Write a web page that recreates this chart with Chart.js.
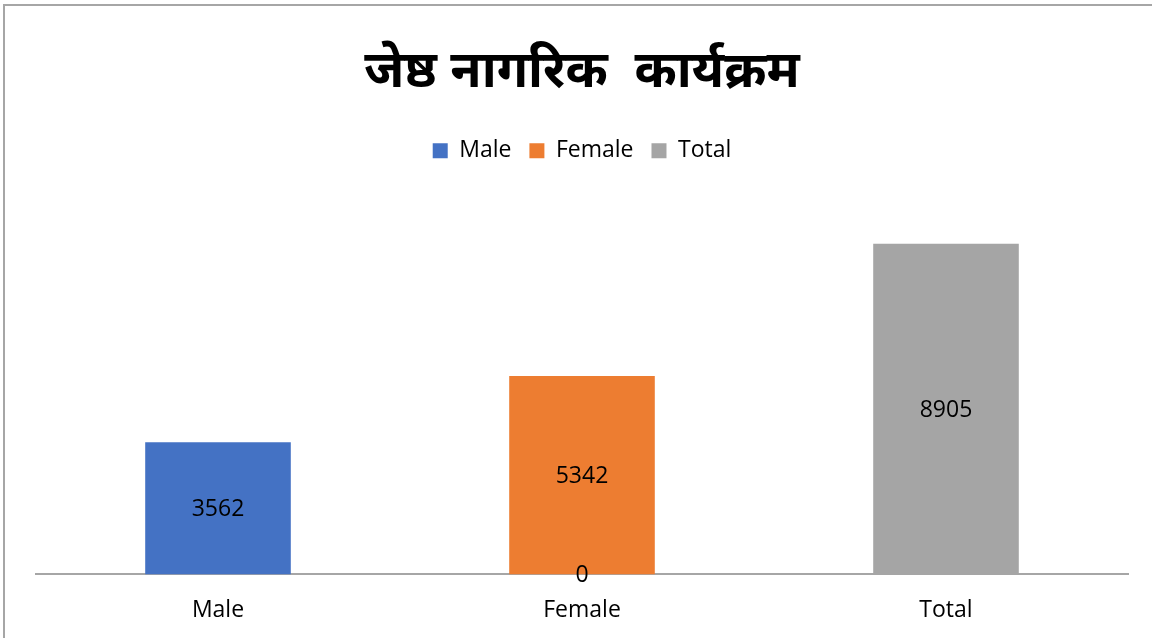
<!DOCTYPE html>
<html lang="en">
<head>
    <meta charset="UTF-8">
    <title>जेष्ठ नागरिक कार्यक्रम</title>
    <script src="https://cdn.jsdelivr.net/npm/chart.js"></script>
    <style>
        html, body {
            margin: 0;
            padding: 0;
            background: #fff;
        }
        .frame {
            position: absolute;
            left: 3px;
            top: 4px;
            width: 1149px;
            height: 634px;
            border-left: 2px solid #a6a6a6;
            border-top: 2px solid #a6a6a6;
            box-sizing: border-box;
        }
        .chart-box {
            position: absolute;
            left: 0;
            top: 0;
            width: 1152px;
            height: 638px;
        }
    </style>
</head>
<body>
    <div class="frame"></div>
    <div class="chart-box">
        <canvas id="seniorChart"></canvas>
    </div>

    <script>
        const chartTitle = 'जेष्ठ नागरिक  कार्यक्रम';
        const categories = ['Male', 'Female', 'Total'];
        const seriesNames = ['Male', 'Female', 'Total'];
        // each series only has a value in its own column (the 0 shows under Female)
        const maleValues = [3562, 0, null];
        const femaleValues = [null, 5342, null];
        const totalValues = [null, null, 8905];
        const seriesColors = ['#4472c4', '#ed7d31', '#a5a5a5'];

        const latinFont = "'Open Sans', 'Noto Sans', sans-serif";

        // draws the value in the middle of each bar, like Excel's centered labels
        const barLabels = {
            id: 'barLabels',
            afterDatasetsDraw(chart) {
                const ctx = chart.ctx;
                ctx.save();
                ctx.font = '23px ' + latinFont;
                ctx.fillStyle = '#000';
                ctx.textAlign = 'center';
                ctx.textBaseline = 'middle';
                chart.data.datasets.forEach((ds, i) => {
                    const meta = chart.getDatasetMeta(i);
                    meta.data.forEach((bar, j) => {
                        const v = ds.data[j];
                        if (v === null || v === undefined) return;
                        const p = bar.getCenterPoint();
                        ctx.fillText(String(v), p.x, p.y + 1);
                    });
                });
                ctx.restore();
            }
        };

        // extra room between the legend and the bars
        const legendGap = {
            id: 'legendGap',
            beforeInit(chart) {
                const origFit = chart.legend.fit;
                chart.legend.fit = function() {
                    origFit.bind(chart.legend)();
                    this.height += 31;
                };
            }
        };

        document.addEventListener('DOMContentLoaded', function() {
            const ctx = document.getElementById('seniorChart');
            const values = [maleValues, femaleValues, totalValues];

            new Chart(ctx, {
                type: 'bar',
                data: {
                    labels: categories,
                    datasets: seriesNames.map((name, i) => ({
                        label: name,
                        data: values[i],
                        backgroundColor: seriesColors[i],
                        borderWidth: 0,
                        categoryPercentage: 1,
                        barPercentage: 0.4
                    }))
                },
                options: {
                    responsive: true,
                    maintainAspectRatio: false,
                    animation: false,
                    layout: {
                        padding: { left: 36, right: 24, top: 20, bottom: 0 }
                    },
                    plugins: {
                        title: {
                            display: true,
                            text: chartTitle,
                            color: '#000',
                            font: { size: 51, weight: 'bold', family: "'Noto Sans', sans-serif" },
                            padding: { top: 22, bottom: 18 }
                        },
                        legend: {
                            display: true,
                            position: 'top',
                            labels: {
                                color: '#000',
                                font: { size: 23, family: latinFont },
                                boxWidth: 15,
                                boxHeight: 15,
                                padding: 18
                            }
                        },
                        tooltip: { enabled: false }
                    },
                    scales: {
                        x: {
                            stacked: true,
                            grid: { display: false },
                            border: { display: true, color: '#a6a6a6', width: 2 },
                            ticks: {
                                color: '#000',
                                font: { size: 23, family: latinFont },
                                padding: 14
                            }
                        },
                        y: {
                            stacked: true,
                            display: false,
                            min: 0,
                            max: 10000
                        }
                    }
                },
                plugins: [barLabels, legendGap]
            });
        });
    </script>
</body>
</html>
